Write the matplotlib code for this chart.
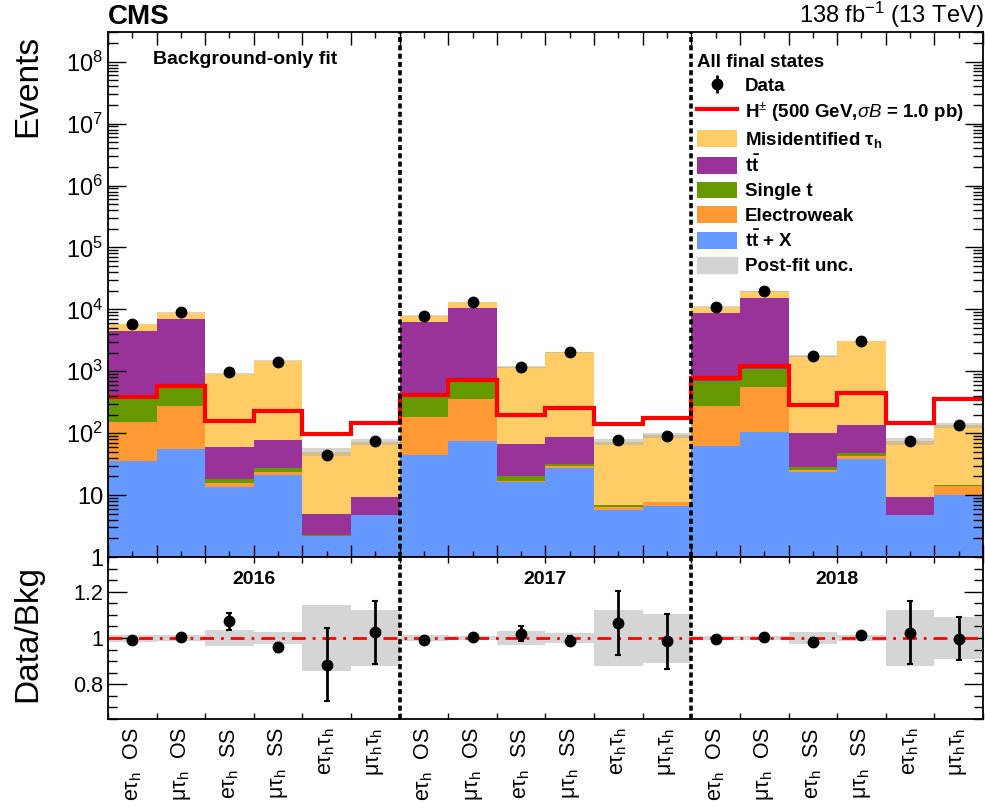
import numpy as np
import matplotlib
matplotlib.use('Agg')
import matplotlib.pyplot as plt
from matplotlib.patches import Patch
from matplotlib.ticker import FixedLocator, FuncFormatter, MultipleLocator

plt.rcParams['font.family'] = ['Liberation Sans', 'DejaVu Sans']
plt.rcParams['mathtext.fontset'] = 'custom'
plt.rcParams['mathtext.rm'] = 'Liberation Sans'
plt.rcParams['mathtext.it'] = 'Liberation Sans:italic'
plt.rcParams['mathtext.bf'] = 'Liberation Sans:bold'

# categories (per year: 6 final states)
years = ['2016', '2017', '2018']
cat_labels = ['eτ$_{\\mathrm{h}}$  OS', 'μτ$_{\\mathrm{h}}$  OS',
              'eτ$_{\\mathrm{h}}$  SS', 'μτ$_{\\mathrm{h}}$  SS',
              'eτ$_{\\mathrm{h}}$τ$_{\\mathrm{h}}$', 'μτ$_{\\mathrm{h}}$τ$_{\\mathrm{h}}$']

# post-fit backgrounds (events per bin)
ttX = [35, 55, 13.6, 21, 2.2, 4.7, 45, 74, 16.3, 27, 5.7, 6.6, 63, 105, 24, 39, 4.8, 10]
ewk = [115, 225, 2.0, 3.0, 0.02, 0.05, 135, 281, 0.7, 2.4, 0.75, 1.0, 212, 450, 1.8, 4.0, 0.02, 4.2]
singlet = [215, 260, 2.4, 3.0, 0.01, 0.05, 200, 310, 3.0, 2.4, 0.45, 0.1, 430, 515, 2.5, 5.0, 0.01, 0.5]
ttbar = [4035, 6360, 42, 50, 2.8, 4.4, 5770, 9735, 48, 56, 0.05, 0.05, 8195, 14330, 70.7, 87, 4.4, 0.1]
misid = [1400, 2000, 860, 1403, 45, 64, 1750, 2700, 1100, 1950, 65, 85, 2200, 4100, 1670, 2965, 65, 120]

# relative post-fit uncertainty
unc_rel = [0.015, 0.012, 0.034, 0.025, 0.143, 0.12, 0.012, 0.01, 0.03, 0.022, 0.119, 0.106,
           0.01, 0.01, 0.025, 0.012, 0.12, 0.089]

# data
data = [5760, 8950, 987, 1420, 44.3, 75, 7850, 13150, 1190, 2015, 76.6, 91.4,
        11050, 19620, 1742, 3137, 76, 134.5]
data_err = [58, 71, 34, 30, 7.9, 10, 79, 105, 39, 41, 9.9, 10.9, 89, 117, 27, 31, 10.1, 12.7]

# H+ signal, 500 GeV, sigma*B = 1 pb
signal = [380, 570, 155, 226, 98, 148, 415, 730, 200, 260, 140, 178, 780, 1200, 285, 450, 145, 355]

bkg_names = ['t$\\mathbf{\\bar{t}}$ + X', 'Electroweak', 'Single t', '$\\mathbf{t\\bar{t}}$',
             'Misidentified τ$_{\\mathbf{h}}$']
bkg_colors = ['#6699ff', '#ff9933', '#669900', '#993399', '#ffcc66']

nbins = len(data)
edges = np.arange(nbins + 1)
centers = edges[:-1] + 0.5
total = np.sum([ttX, ewk, singlet, ttbar, misid], axis=0)
unc_rel = np.array(unc_rel)
data = np.array(data)
data_err = np.array(data_err)

fig = plt.figure(figsize=(9.85, 8.1), dpi=100)
ax = fig.add_axes([0.1096, 0.3123, 0.8884, 0.648])
rax = fig.add_axes([0.1096, 0.1123, 0.8884, 0.2])

# stacked backgrounds
bottom = np.full(nbins, 1e-3)
handles = {}
for vals, name, col in zip([ttX, ewk, singlet, ttbar, misid], bkg_names, bkg_colors):
    top = bottom + np.array(vals)
    handles[name] = ax.stairs(top, edges, baseline=bottom, fill=True, color=col, lw=0)
    bottom = top

unc_col = (175 / 255, 175 / 255, 175 / 255)
ax.bar(centers, 2 * unc_rel * total, bottom=total * (1 - unc_rel), width=1.0,
       color=unc_col, alpha=0.52, lw=0)

sig = ax.stairs(signal, edges, baseline=None, color='#ff0000', lw=3)
dat = ax.errorbar(centers, data, yerr=data_err, fmt='o', color='black', ms=7.5,
                  elinewidth=2, capsize=0)

ax.set_yscale('log')
ax.set_ylim(1, 3e8)
ax.set_xlim(0, nbins)

def log_fmt(v, pos):
    e = int(round(np.log10(v)))
    if e == 0:
        return '1'
    if e == 1:
        return '10'
    return '$10^{%d}$' % e

ax.yaxis.set_major_formatter(FuncFormatter(log_fmt))
ax.xaxis.set_major_locator(FixedLocator(edges))
ax.xaxis.set_minor_locator(FixedLocator(centers))
ax.tick_params(axis='x', which='both', direction='in', top=True, bottom=True, labelbottom=False)
ax.tick_params(axis='x', which='major', length=9, width=1)
ax.tick_params(axis='x', which='minor', length=4.5, width=1)
ax.tick_params(axis='y', which='both', direction='in', left=True, right=True, labelsize=17, width=1)
ax.tick_params(axis='y', which='major', length=13)
ax.tick_params(axis='y', which='minor', length=7)
for sp in ax.spines.values():
    sp.set_linewidth(1.3)

for xb in [6, 12]:
    ax.axvline(xb, color='black', lw=2.6, ls=(0, (1.4, 0.9)))
    rax.axvline(xb, color='black', lw=2.6, ls=(0, (1.4, 0.9)))

ax.text(0.051, 0.947, 'Background-only fit', transform=ax.transAxes, fontsize=14,
        fontweight='bold', va='center', ha='left')

unc_patch = Patch(color='#d3d3d3')
leg = ax.legend([dat, sig, handles[bkg_names[4]], handles[bkg_names[3]], handles[bkg_names[2]],
                 handles[bkg_names[1]], handles[bkg_names[0]], unc_patch],
                ['Data', 'H$^{\\pm}$ (500 GeV,$\\sigma B$ = 1.0 pb)', bkg_names[4], bkg_names[3],
                 bkg_names[2], bkg_names[1], bkg_names[0], 'Post-fit unc.'],
                loc='upper left', bbox_to_anchor=(0.673, 0.958), frameon=False,
                prop={'weight': 'bold', 'size': 13.5}, title='All final states',
                title_fontproperties={'weight': 'bold', 'size': 13.5}, alignment='left',
                handlelength=2.13, handleheight=1.0, handletextpad=0.43, labelspacing=0.29,
                borderpad=0, borderaxespad=0)

fig.text(0.1096, 0.963, 'CMS', fontsize=20, fontweight='bold', ha='left', va='bottom')
fig.text(0.998, 0.963, '138 fb$^{-1}$ (13 TeV)', fontsize=17, ha='right', va='bottom')
fig.text(0.028, 0.957, 'Events', fontsize=24, rotation=90, ha='center', va='top')
fig.text(0.028, 0.303, 'Data/Bkg', fontsize=24, rotation=90, ha='center', va='top')

# ratio panel
rax.bar(centers, 2 * unc_rel, bottom=1 - unc_rel, width=1.0, color=unc_col, alpha=0.52, lw=0)
rax.axhline(1.0, color='#ff0000', lw=2, ls=(0, (5, 2.5, 1, 2.5)))
rax.errorbar(centers, data / total, yerr=data_err / total, fmt='o', color='black', ms=7.5,
             elinewidth=2, capsize=2, capthick=1.5)
rax.set_xlim(0, nbins)
rax.set_ylim(0.65, 1.35)
rax.yaxis.set_major_locator(FixedLocator([0.8, 1.0, 1.2]))
rax.yaxis.set_major_formatter(FuncFormatter(lambda v, p: '%g' % round(v, 2)))
rax.yaxis.set_minor_locator(MultipleLocator(0.05))
rax.tick_params(axis='y', which='both', direction='in', left=True, right=True, labelsize=15.5, width=1)
rax.tick_params(axis='y', which='major', length=14)
rax.tick_params(axis='y', which='minor', length=6.5)
rax.xaxis.set_minor_locator(FixedLocator(edges))
rax.tick_params(axis='x', which='minor', direction='in', top=True, bottom=True, length=4.5, width=1)
rax.set_xticks(centers)
rax.set_xticklabels(cat_labels * 3, rotation=90, fontsize=15.5)
rax.tick_params(axis='x', which='major', length=0, pad=6)
for sp in rax.spines.values():
    sp.set_linewidth(1.3)

for i, yr in enumerate(years):
    rax.text(3 + 6 * i, 1.255, yr, fontsize=14, fontweight='bold', ha='center', va='center')

fig.savefig('out.png', dpi=100)
